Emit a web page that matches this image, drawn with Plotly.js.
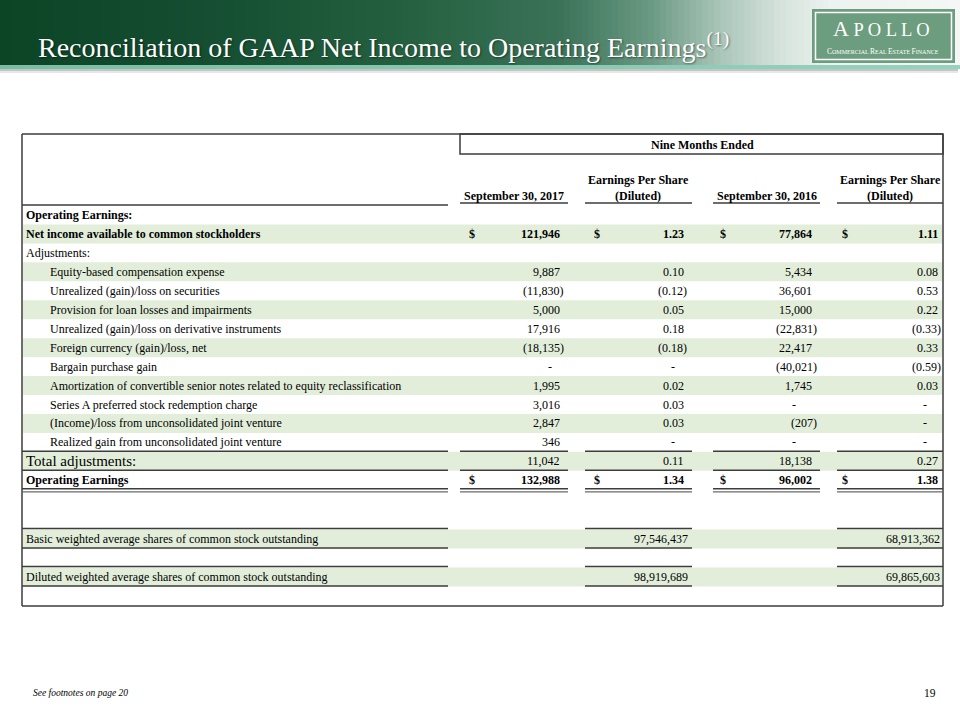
<!DOCTYPE html>
<html><head><meta charset="utf-8">
<script src="https://cdn.plot.ly/plotly-3.0.1.min.js"></script>
<style>html,body{margin:0;padding:0;background:#fff}#chart{width:960px;height:720px}</style>
</head><body><div id="chart"></div>
<script>
// ---------------- DATA ----------------
const slideTitle = "Reconciliation of GAAP Net Income to Operating Earnings";
const periodHeader = "Nine Months Ended";
const columnHeaders = ["September 30, 2017", "Earnings Per Share<br>(Diluted)", "September 30, 2016", "Earnings Per Share<br>(Diluted)"];
const sectionLabel = "Operating Earnings:";
const netIncomeLabel = "Net income available to common stockholders";
const adjustmentsLabel = "Adjustments:";
const adjustmentLabels = [
  "Equity-based compensation expense",
  "Unrealized (gain)/loss on securities",
  "Provision for loan losses and impairments",
  "Unrealized (gain)/loss on derivative instruments",
  "Foreign currency (gain)/loss, net",
  "Bargain purchase gain",
  "Amortization of convertible senior notes related to equity reclassification",
  "Series A preferred stock redemption charge",
  "(Income)/loss from unconsolidated joint venture",
  "Realized gain from unconsolidated joint venture"
];
const totalLabel = "Total adjustments:";
const operatingLabel = "Operating Earnings";
const shareLabels = ["Basic weighted average shares of common stock outstanding",
                     "Diluted weighted average shares of common stock outstanding"];

// columns: [Sep 30 2017, EPS 2017, Sep 30 2016, EPS 2016]
const netIncome = [121946, 1.23, 77864, 1.11];
const adjSep2017 = [9887, -11830, 5000, 17916, -18135, null, 1995, 3016, 2847, 346];
const adjEps2017 = [0.10, -0.12, 0.05, 0.18, -0.18, null, 0.02, 0.03, 0.03, null];
const adjSep2016 = [5434, 36601, 15000, -22831, 22417, -40021, 1745, null, -207, null];
const adjEps2016 = [0.08, 0.53, 0.22, -0.33, 0.33, -0.59, 0.03, null, null, null];
const totalAdjustments = [11042, 0.11, 18138, 0.27];
const operatingEarnings = [132988, 1.34, 96002, 1.38];
const shares2017 = [97546437, 98919689];
const shares2016 = [68913362, 69865603];
const columnDecimals = [0, 2, 0, 2];

const footnote = "See footnotes on page 20";
const pageNumber = "19";

// ---------------- STYLE / LAYOUT ----------------
const FONT = "Liberation Serif, Times New Roman, serif";
const LINE = "#3d3d3d";
const SHADE = "#e2eeda";
const colSeg = [[460, 568], [585, 692], [713, 820], [837, 943]];
const labelSeg = [22, 448];
const dollarX = [472, 597, 723, 845];
const posRight = [561, 685, 813, 939];
const negRight = [565, 688, 818, 942];
const dashX = [550, 673, 794, 925];
const shareRight = [689, 941];
const shareY = [539, 577];
function rowY(i) { return 215 + 18.95 * i; }

function fmt(v, d) {
  if (v === null) return "-";
  const s = Math.abs(v).toLocaleString("en-US", {minimumFractionDigits: d, maximumFractionDigits: d});
  return v < 0 ? "(" + s + ")" : s;
}

const shapes = [];
const annotations = [];

function rect(x0, x1, y0, y1, fill, line) {
  shapes.push({type: "rect", xref: "x", yref: "y", x0, x1, y0, y1, fillcolor: fill,
    line: line || {width: 0}, layer: "below"});
}
function hline(x0, x1, y, w, c) {
  shapes.push({type: "line", xref: "x", yref: "y", x0, x1, y0: y, y1: y,
    line: {color: c || LINE, width: w || 1.5}});
}
function vline(x, y0, y1, w, c) {
  shapes.push({type: "line", xref: "x", yref: "y", x0: x, x1: x, y0, y1,
    line: {color: c || LINE, width: w || 1.5}});
}
function text(t, x, y, anchor, opts) {
  opts = opts || {};
  annotations.push({xref: "x", yref: "y", x, y, text: t, showarrow: false,
    xanchor: anchor || "left", yanchor: "middle", borderpad: 0,
    align: opts.align || (anchor === "center" ? "center" : anchor || "left"),
    font: Object.assign({family: FONT, size: 12, color: "#000"}, opts.font || {})});
}

// ---- banner gradient ----
const stops = [[0, [12, 68, 38]], [200, [20, 77, 49]], [400, [36, 96, 63]], [560, [58, 114, 88]],
               [650, [106, 153, 130]], [720, [169, 197, 184]], [780, [213, 226, 220]],
               [830, [236, 242, 239]], [960, [244, 247, 245]]];
function colAt(x) {
  for (let k = 0; k < stops.length - 1; k++) {
    const [a, ca] = stops[k], [b, cb] = stops[k + 1];
    if (x >= a && x <= b) {
      const t = (x - a) / (b - a);
      return "rgb(" + ca.map((c, j) => Math.round(c + (cb[j] - c) * t)).join(",") + ")";
    }
  }
  return "rgb(244,247,245)";
}
for (let x = 0; x < 960; x += 6) rect(x, x + 6.5, 0, 65, colAt(x + 3));
// teal strip + shadow
for (let x = 0; x < 960; x += 12) {
  const t = x / 960;
  const c = [Math.round(120 + 30 * t), Math.round(190 + 20 * t), Math.round(165 + 25 * t)];
  rect(x, x + 12.5, 65, 69, "rgb(" + c.join(",") + ")");
}
rect(0, 958, 69, 71, "#c4c6c5");
rect(0, 958, 71, 73, "#e6e7e6");

// logo
rect(812, 955, 9, 63, "#6c9d7e");
shapes.push({type: "rect", xref: "x", yref: "y", x0: 815.5, x1: 951.5, y0: 12.5, y1: 59.5,
  line: {color: "#ffffff", width: 1.5}, fillcolor: "rgba(0,0,0,0)"});
text("<span style='font-size:22px'>A</span> P O L L O", 881, 28, "center",
  {font: {size: 18.5, color: "#ffffff"}});
text("<span style='font-size:7.5px'>C</span>OMMERCIAL <span style='font-size:7.5px'>R</span>EAL <span style='font-size:7.5px'>E</span>STATE <span style='font-size:7.5px'>F</span>INANCE",
  883, 51.5, "center", {font: {size: 6, color: "#ffffff"}});

// title
text(slideTitle + "<sup>(1)</sup>", 37, 45, "left",
  {font: {size: 28, color: "#ffffff", shadow: "1px 1px 2px rgba(0,0,0,0.45)"}});

// ---- table frame ----
hline(22, 943, 134);
vline(22, 134, 606);
vline(943, 134, 606);
hline(22, 943, 606);
shapes.push({type: "rect", xref: "x", yref: "y", x0: 460, x1: 943, y0: 134, y1: 154,
  line: {color: LINE, width: 1.5}, fillcolor: "rgba(0,0,0,0)"});
text("<b>" + periodHeader + "</b>", 702, 145, "center");
columnHeaders.forEach((h, c) => {
  const cx = (colSeg[c][0] + colSeg[c][1]) / 2;
  const y = h.indexOf("<br>") >= 0 ? 187.5 : 195.5;
  text("<b>" + h + "</b>", cx, y, "center");
  hline(colSeg[c][0], colSeg[c][1], 203);
});
hline(labelSeg[0], labelSeg[1], 205);

// ---- rows ----
const SH = 9.5;
function shadeRow(y) { rect(23, 942, y - SH, y + SH, SHADE); }

function valueRow(vals, y, bold, dollar) {
  vals.forEach((v, c) => {
    const s = fmt(v, columnDecimals[c]);
    if (dollar) text(bold ? "<b>$</b>" : "$", dollarX[c], y, "center");
    if (v === null) text(s, dashX[c], y, "center");
    else text(bold ? "<b>" + s + "</b>" : s, v < 0 ? negRight[c] : posRight[c], y, "right");
  });
}

text("<b>" + sectionLabel + "</b>", 25, rowY(0), "left");
shadeRow(rowY(1));
text("<b>" + netIncomeLabel + "</b>", 25, rowY(1), "left");
valueRow(netIncome, rowY(1), true, true);
text(adjustmentsLabel, 25, rowY(2), "left");
adjustmentLabels.forEach((lab, i) => {
  const y = rowY(3 + i);
  if (i % 2 === 0) shadeRow(y);
  text(lab, 49, y, "left");
  valueRow([adjSep2017[i], adjEps2017[i], adjSep2016[i], adjEps2016[i]], y, false, false);
});
// total adjustments
const yT = rowY(13);
shadeRow(yT);
text(totalLabel, 25, yT, "left", {font: {size: 15}});
valueRow(totalAdjustments, yT, false, false);
[labelSeg].concat(colSeg).forEach(s => { hline(s[0], s[1], yT - 10); hline(s[0], s[1], yT + 9); });
// operating earnings
const yO = rowY(14);
text("<b>" + operatingLabel + "</b>", 25, yO, "left");
valueRow(operatingEarnings, yO, true, true);
[labelSeg].concat(colSeg).forEach(s => { hline(s[0], s[1], yO + 8.5, 1.6); hline(s[0], s[1], yO + 11.5, 1.2, "#6a6a6a"); });
// shares
shareLabels.forEach((lab, i) => {
  const y = shareY[i];
  shadeRow(y);
  text(lab, 25, y, "left");
  text(fmt(shares2017[i], 0), shareRight[0], y, "right");
  text(fmt(shares2016[i], 0), shareRight[1], y, "right");
  [labelSeg, colSeg[1], colSeg[3]].forEach(s => { hline(s[0], s[1], y - 10.5); hline(s[0], s[1], y + 9); });
});

// footer
text("<i>" + footnote + "</i>", 32, 693, "left", {font: {size: 9.5}});
text(pageNumber, 937, 693, "right", {font: {size: 11.5}});

const layout = {
  width: 960, height: 720,
  margin: {l: 0, r: 0, t: 0, b: 0},
  paper_bgcolor: "#ffffff", plot_bgcolor: "#ffffff",
  xaxis: {range: [0, 960], visible: false, fixedrange: true},
  yaxis: {range: [720, 0], visible: false, fixedrange: true},
  showlegend: false,
  shapes, annotations
};
Plotly.newPlot("chart", [{x: [], y: [], type: "scatter", mode: "markers"}], layout,
  {displayModeBar: false, staticPlot: true});
</script></body></html>
